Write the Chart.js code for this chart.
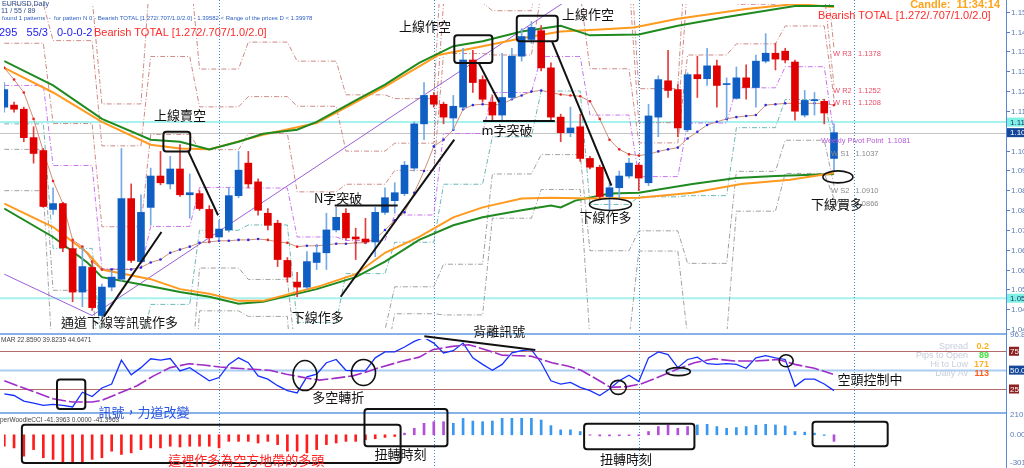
<!DOCTYPE html>
<html><head><meta charset="utf-8">
<script src="https://cdn.jsdelivr.net/npm/chart.js@4"></script>
<style>html,body{margin:0;padding:0;background:#fff;overflow:hidden}</style>
</head><body>
<canvas id="c" width="1024" height="468"></canvas>
<script>
// ---------- DATA ----------
const bars = Array.from({length: 86}, (_, i) => i);
const opens = [1.1178,1.1185,1.1171,1.1074,1.1030,1.0829,1.0849,1.0695,1.0547,1.0631,
1.0467,1.0564,1.0591,1.0866,1.0651,1.0836,1.0943,1.0916,1.0967,1.0879,
1.0883,1.0829,1.0735,1.0759,1.0876,1.0987,1.0923,1.0816,1.0782,1.0655,
1.0581,1.0564,1.0648,1.0681,1.0759,1.0816,1.0735,1.0728,1.0718,1.0819,
1.0859,1.0883,1.0970,1.1121,1.1218,1.1188,1.1141,1.1178,1.1339,1.1272,
1.1195,1.1151,1.1211,1.1352,1.1409,1.1439,1.1312,1.1144,1.1091,1.1111,
1.1003,1.0973,1.0873,1.0903,1.0943,1.0980,1.0920,1.1144,1.1268,1.1238,
1.1101,1.1289,1.1275,1.1319,1.1255,1.1208,1.1278,1.1245,1.1335,1.1362,
1.1369,1.1332,1.1151,1.1200,1.1198,1.1003];
const highs = [1.1262,1.1195,1.1178,1.1111,1.1037,1.0903,1.0852,1.0725,1.0698,1.0651,
1.0574,1.0618,1.1037,1.0916,1.0879,1.0970,1.1027,1.1010,1.1050,1.0950,
1.0893,1.0842,1.0792,1.0903,1.1027,1.1027,1.0933,1.0832,1.0792,1.0665,
1.0614,1.0685,1.0708,1.0816,1.0836,1.0832,1.0765,1.0799,1.0836,1.0903,
1.0920,1.0993,1.1128,1.1262,1.1228,1.1195,1.1218,1.1379,1.1372,1.1285,
1.1218,1.1362,1.1379,1.1446,1.1470,1.1456,1.1329,1.1154,1.1178,1.1154,
1.1010,1.0980,1.0920,1.0960,1.1003,1.0987,1.1188,1.1285,1.1372,1.1255,
1.1295,1.1352,1.1379,1.1339,1.1278,1.1315,1.1322,1.1356,1.1429,1.1396,
1.1379,1.1339,1.1235,1.1228,1.1205,1.1121];
const lows = [1.1161,1.1161,1.1060,1.0987,1.0836,1.0812,1.0685,1.0514,1.0497,1.0484,
1.0457,1.0551,1.0584,1.0648,1.0645,1.0775,1.0913,1.0899,1.0873,1.0799,
1.0826,1.0715,1.0725,1.0752,1.0869,1.0903,1.0809,1.0759,1.0634,1.0581,
1.0531,1.0557,1.0624,1.0624,1.0752,1.0725,1.0658,1.0712,1.0668,1.0812,
1.0816,1.0876,1.0960,1.1067,1.1178,1.1121,1.1101,1.1171,1.1228,1.1195,
1.1134,1.1134,1.1205,1.1335,1.1396,1.1302,1.1134,1.1060,1.1077,1.0993,
1.0967,1.0866,1.0826,1.0869,1.0936,1.0893,1.0910,1.1077,1.1211,1.1077,
1.1094,1.1211,1.1252,1.1178,1.1138,1.1205,1.1205,1.1178,1.1329,1.1305,
1.1329,1.1134,1.1144,1.1151,1.1121,1.0960];
const closes = [1.1238,1.1171,1.1074,1.1020,1.0839,1.0849,1.0698,1.0547,1.0634,1.0494,
1.0564,1.0598,1.0866,1.0655,1.0819,1.0943,1.0920,1.0967,1.0879,1.0886,
1.0832,1.0732,1.0762,1.0876,1.0963,1.0916,1.0826,1.0775,1.0658,1.0598,
1.0564,1.0651,1.0681,1.0759,1.0802,1.0732,1.0728,1.0718,1.0819,1.0869,
1.0886,1.0980,1.1121,1.1218,1.1188,1.1144,1.1181,1.1339,1.1262,1.1205,
1.1151,1.1211,1.1352,1.1419,1.1450,1.1312,1.1144,1.1091,1.1107,1.1003,
1.0973,1.0873,1.0903,1.0943,1.0987,1.0936,1.1148,1.1272,1.1235,1.1107,
1.1289,1.1275,1.1319,1.1252,1.1258,1.1278,1.1245,1.1335,1.1362,1.1342,
1.1339,1.1164,1.1201,1.1203,1.1158,1.1091];
const maMid = [1.1312,1.1272,1.1228,1.1138,1.1027,1.0926,1.0849,1.0725,1.0702,1.0651,
1.0624,1.0624,1.0624,1.0624,1.0631,1.0648,1.0658,1.0681,1.0692,1.0702,
1.0715,1.0718,1.0722,1.0722,1.0725,1.0725,1.0728,1.0725,1.0718,1.0715,
1.0702,1.0705,1.0705,1.0708,1.0712,1.0712,1.0715,1.0715,1.0728,1.0759,
1.0792,1.0819,1.0886,1.0960,1.1044,1.1067,1.1101,1.1171,1.1185,1.1188,
1.1185,1.1188,1.1205,1.1218,1.1231,1.1235,1.1228,1.1221,1.1218,1.1215,
1.1198,1.1138,1.1067,1.1034,1.1017,1.1013,1.1017,1.1027,1.1034,1.1040,
1.1071,1.1094,1.1117,1.1128,1.1138,1.1144,1.1148,1.1151,1.1185,1.1188,
1.1191,1.1191,1.1191,1.1191,1.1191,1.1185];
// channel bands: [bar, price]
const upperGreen = [[0,1.1335],[5,1.1252],[10,1.1138],[15,1.1067],[18,1.1060],[21,1.1034],[24,1.1060],[26.5,1.1087],[30,1.1101],[32,1.1128],[36,1.1201],[39,1.1255],[42.5,1.1329],[46,1.1386],[49,1.1403],[53,1.1436],[57,1.1456],[60,1.1423],[65,1.1426],[69,1.1456],[74,1.1486],[81,1.1523],[85,1.1523]];
const upperOrange = [[0,1.1312],[5,1.1228],[10,1.1128],[15,1.1050],[18,1.1037],[21,1.1034],[26.5,1.1084],[32,1.1124],[39,1.1248],[44.5,1.1356],[49,1.1386],[53,1.1413],[57,1.1436],[61,1.1443],[64.5,1.1450],[69,1.1480],[76,1.1513],[81,1.1530],[85,1.1520]];
const lowerOrange = [[0,1.0849],[5,1.0769],[8.5,1.0681],[10,1.0624],[15,1.0591],[18,1.0557],[21,1.0541],[24,1.0517],[26.5,1.0517],[32,1.0564],[36,1.0608],[39,1.0681],[42.5,1.0735],[46,1.0802],[49,1.0836],[53,1.0866],[56,1.0869],[60,1.0866],[65,1.0869],[70.5,1.0886],[75.5,1.0916],[80.5,1.0930],[85,1.0953]];
const lowerGreen = [[0,1.0832],[5,1.0735],[8.5,1.0648],[10,1.0598],[15,1.0567],[18,1.0547],[21,1.0531],[24,1.0507],[26.5,1.0514],[32,1.0557],[36,1.0598],[39,1.0651],[42.5,1.0725],[46,1.0775],[49,1.0802],[53,1.0826],[56,1.0842],[57,1.0836],[58.5,1.0859],[62,1.0883],[65,1.0886],[70.5,1.0916],[75,1.0936],[79,1.0943],[85,1.0950]];
const trendLine = [[0,1.0608],[9,1.0467],[51,1.1396],[58,1.1550]];
// weekly pivots (5 bars per week)
const WEEK = 5;
const pivotPP = [1.1252,1.0979,1.0627,1.0771,1.0904,1.0902,1.0735,1.0723,1.0810,1.1088,1.1228,1.1351,1.1151,1.0941,1.1124,1.1244,1.1316,1.1081];
const pivotR1 = [1.1396,1.1122,1.0770,1.1085,1.1033,1.1088,1.0889,1.0915,1.0962,1.1361,1.1356,1.1568,1.1309,1.1056,1.1356,1.1394,1.1455,1.1208];
const pivotR2 = [1.1530,1.1405,1.1046,1.1351,1.1179,1.1214,1.1181,1.1028,1.1055,1.1534,1.1507,1.1687,1.1614,1.1125,1.1604,1.1529,1.1568,1.1252];
const pivotR3 = [1.1650,1.1548,1.1189,1.1665,1.1308,1.1400,1.1335,1.1220,1.1207,1.1807,1.1634,1.1904,1.1772,1.1241,1.1835,1.1679,1.1709,1.1378];
const pivotS1 = [1.1121,1.0696,1.0350,1.0505,1.0758,1.0776,1.0443,1.0610,1.0717,1.0915,1.1077,1.1233,1.0846,1.0872,1.0876,1.1108,1.1204,1.1037];
const pivotS2 = [1.1034,1.0553,1.0208,1.0191,1.0629,1.0590,1.0289,1.0418,1.0565,1.0642,1.0950,1.1016,1.0688,1.0756,1.0645,1.0959,1.1065,1.0910];
const pivotS3 = [1.0893,1.0270,0.9932,0.9925,1.0483,1.0464,0.9997,1.0304,1.0473,1.0469,1.0799,1.0897,1.0383,1.0687,1.0396,1.0823,1.0952,1.0866];
const monthStarts = [22, 44, 65, 87];
const bidPrice = 1.1091, cyanHigh = 1.1127, cyanLow = 1.0526;
const mainTicks = [1.1504,1.1436,1.1369,1.1301,1.1233,1.1166,1.1030,1.0962,1.0895,1.0827,1.0759,1.0692,1.0624,1.0556,1.0488,1.0421];
// oscillator panel
const rsiMain = [18.5,16.4,9.0,6.4,3.4,4.6,3.4,1.2,20.7,15.1,
26.3,31.6,63.2,43.7,53.3,65.0,63.2,65.4,48.9,53.3,
44.6,35.9,40.2,57.6,66.3,59.8,42.4,38.1,29.4,22.9,
19.8,41.1,44.6,59.8,64.1,49.8,48.9,48.9,66.3,74.1,
74.1,80.6,88.0,93.2,85.8,72.8,75.8,85.8,66.3,57.6,
49.8,57.6,72.8,75.8,77.1,59.8,35.9,31.6,33.7,27.2,
22.9,16.4,25.0,35.9,43.3,35.0,66.3,74.1,70.6,53.3,
64.1,67.1,58.5,57.6,58.5,57.6,52.4,66.3,69.3,66.3,
64.1,28.5,38.1,38.1,31.6,22.9];
const rsiSignal = [[0,35.9],[5,12.0],[7,7.7],[9,7.7],[10,9.9],[12,20.7],[13.6,29.4],[15.3,42.4],[17,53.3],[18.9,58.5],[20.4,56.7],[22.1,54.1],[23.8,52.4],[25.5,51.1],[27.2,49.8],[28.9,44.6],[31,39.4],[32.3,36.8],[34,39.4],[35.7,42.4],[37.4,48.9],[38.4,53.3],[40.8,62.0],[42.5,67.2],[43.9,77.1],[45.9,81.5],[47.6,83.6],[49.3,77.1],[51,69.8],[54,68.4],[56.1,59.8],[57.7,55.4],[59.1,49.8],[60.4,40.2],[62.1,27.2],[63.8,28.1],[65.2,31.6],[66.9,40.2],[68.9,51.1],[70.7,59.8],[72.7,65.0],[74.8,62.0],[76.9,62.0],[79.3,64.1],[81,57.6],[83,52.4],[84.9,44.6]];
const rsiLevels = [75, 50, 25];
// CCI histogram
const cciValues = [-122,-140,-228,-158,-245,-263,-298,-298,-298,-263,
-245,-175,-210,-193,-158,-140,-140,-122,-130,-122,
-122,-122,-140,-70,-70,-70,-88,-70,-105,-175,
-175,-193,-158,-105,-88,-70,-70,-53,-42,-28,
-18,18,70,123,140,140,123,175,147,140,
147,186,200,210,200,158,98,53,53,35,
-5,-12,-12,-10,-8,-10,35,88,105,70,
88,105,112,88,70,77,88,102,112,105,
95,35,28,18,-7,-70];
const cciPhase = [[0,40,'bear'],[41,45,'turn'],[46,59,'bull'],[60,70,'turn'],[71,84,'bull'],[85,85,'turn']];

// ---------- STYLE / LAYOUT ----------
const MAIN_BOTTOM = 333, RSI_TOP = 335, RSI_BOTTOM = 412, CCI_TOP = 414, H = 468;
const clipMain = {left:0, right:0, top:0, bottom:-(H - MAIN_BOTTOM)};
const clipRsi = {left:0, right:0, top:-RSI_TOP, bottom:-(H - RSI_BOTTOM)};
const clipCci = {left:0, right:0, top:-CCI_TOP, bottom:0};
const BLUE = '#0e5ec4', RED = '#e00000', BLUE_W = '#74aae6', RED_W = '#e43b3b';
const phaseColor = {bear:'#ff1c1c', turn:'#b24fd6', bull:'#3897f0'};
function cciColor(i){ for (const [a,b,p] of cciPhase) if (i>=a && i<=b) return phaseColor[p]; return '#888'; }
const pts = arr => arr.map(([x,y]) => ({x, y}));
const perBar = arr => bars.map(i => ({x:i, y:arr[i]}));
const weekly = arr => bars.map(i => ({x:i, y:arr[Math.floor(i / WEEK)]}));
function line(data, axis, color, width, dash, order, clip, extra){
  return Object.assign({type:'line', data, yAxisID:axis, xAxisID:'x', borderColor:color, borderWidth:width,
    borderDash:dash||[], pointRadius:0, tension:0, fill:false, order, clip}, extra||{});
}
const DD = [5,2,1,2];
const datasets = [
  {type:'bar', data: bars.map(i => ({x:i, y:[opens[i], closes[i]]})), yAxisID:'yMain', xAxisID:'x',
   backgroundColor: bars.map(i => closes[i] >= opens[i] ? BLUE : RED), barThickness:7, grouped:false,
   borderWidth:0, minBarLength:1, order:0, clip:clipMain},
  {type:'bar', data: bars.map(i => ({x:i, y:[lows[i], highs[i]]})), yAxisID:'yMain', xAxisID:'x',
   backgroundColor: bars.map(i => closes[i] >= opens[i] ? BLUE_W : RED_W), barThickness:1, grouped:false,
   borderWidth:0, order:1, clip:clipMain},
  line(perBar(maMid), 'yMain', '#cf8f74', 1, null, 2, clipMain, {pointRadius:1.3, pointBorderWidth:0,
    pointBackgroundColor: bars.map(i => (i>0 && maMid[i] >= maMid[i-1]) ? '#2a2ae8' : '#e82020')}),
  line(pts(upperGreen), 'yMain', '#1f8a1f', 2, null, 3, clipMain),
  line(pts(upperOrange), 'yMain', '#ff9a1e', 2, null, 3, clipMain),
  line(pts(lowerOrange), 'yMain', '#ff9a1e', 2, null, 3, clipMain),
  line(pts(lowerGreen), 'yMain', '#1f8a1f', 2, null, 3, clipMain),
  line(pts(trendLine), 'yMain', '#9b5fd6', 1, null, 4, clipMain),
  line(weekly(pivotPP), 'yMain', '#c874ee', 1, DD, 5, clipMain),
  line(weekly(pivotR1), 'yMain', '#cc8a86', 1, DD, 5, clipMain),
  line(weekly(pivotR2), 'yMain', '#cc8a86', 1, DD, 5, clipMain),
  line(weekly(pivotR3), 'yMain', '#cc8a86', 1, DD, 5, clipMain),
  line(weekly(pivotS1), 'yMain', '#6cb8b4', 1, DD, 5, clipMain),
  line(weekly(pivotS2), 'yMain', '#a0a0a0', 1, DD, 5, clipMain),
  line(weekly(pivotS3), 'yMain', '#a0a0a0', 1, DD, 5, clipMain),
  line(pts(rsiSignal), 'yRsi', '#a02cc8', 1.6, [14,3], 6, clipRsi),
  line(perBar(rsiMain), 'yRsi', '#1530ff', 1.3, null, 6, clipRsi),
  {type:'bar', data: bars.map(i => ({x:i, y:cciValues[i]})), yAxisID:'yCci', xAxisID:'x',
   backgroundColor: bars.map(i => cciColor(i)), barThickness:2, grouped:false, borderWidth:0, order:7, clip:clipCci}
];

// ---------- ANNOTATIONS (in data units of each panel) ----------
const notesMain = [
  {t:'上線賣空', at:[18.0,1.1151]}, {t:'上線作空', at:[43.1,1.1456]}, {t:'上線作空', at:[59.8,1.1496]},
  {t:'m字突破', at:[51.5,1.1101]}, {t:'N字突破', at:[34.2,1.0869]}, {t:'下線作多', at:[32.1,1.0463]},
  {t:'通道下線等訊號作多', at:[11.8,1.0443]}, {t:'下線作多', at:[61.6,1.0802]}, {t:'下線買多', at:[85.3,1.0849]}
];
const boxesMain = [[16.3,1.1094,19.05,1.1027],[46.1,1.1423,50.0,1.1329],[52.5,1.1490,56.7,1.1403]];
const segsMain = [[18.85,1.1027,21.9,1.0809],[48.6,1.1329,50.7,1.1195],[56.1,1.1403,62.2,1.0910],
  [49.05,1.1131,56.4,1.1131],[33.85,1.0842,40.3,1.0842],[34.46,1.0531,46.1,1.1067],[10.2,1.0463,16.1,1.0752]];
const ellMain = [[62.1,1.0846,21,6],[85.4,1.0940,15,6]];
const notesRsi = [{t:'多空轉折', at:[34.2,14.2]}, {t:'背離訊號', at:[50.7,101.4]}, {t:'空頭控制中', at:[88.7,37.6]},
  {t:'訊號，力道改變', at:[14.3,-5.3], c:'#2a55e0'}];
const boxesRsi = [[5.4,37.6,8.3,-1.4]];
const segsRsi = [[43.03,94.9,54.4,76.7]];
const ellRsi = [[30.8,42.8,12,15],[36.8,46.8,12,13],[62.9,27.2,8,7],[69.05,48.0,12,4],[80.1,62.4,7,6]];
const notesCci = [{t:'扭轉時刻', at:[40.6,-207]}, {t:'扭轉時刻', at:[63.7,-259]}, {t:'這裡作多為空方地帶的多頭', at:[24.8,-269], c:'#ff2020'}];
const boxesCci = [[1.8,108,40.6,-302],[36.9,276,45.4,-123],[59.4,119,70.7,-154],[82.8,140,90.5,-123]];

const CJK = '"Noto Sans CJK TC","Noto Sans CJK SC",sans-serif';
const SANS = '"Liberation Sans","DejaVu Sans",sans-serif';

const overlay = {
  id:'overlay',
  beforeDatasetsDraw(chart){
    const {ctx} = chart, xs = chart.scales.x, ym = chart.scales.yMain, yr = chart.scales.yRsi;
    const R = chart.chartArea.right;
    ctx.save();
    const hl = (y, col, w) => { ctx.strokeStyle = col; ctx.lineWidth = w; ctx.beginPath(); ctx.moveTo(0, y); ctx.lineTo(R, y); ctx.stroke(); };
    hl(Math.round(ym.getPixelForValue(bidPrice))+0.5, '#c4c4c4', 1);
    hl(ym.getPixelForValue(cyanHigh), '#a6f2ee', 2);
    hl(ym.getPixelForValue(cyanLow), '#a6f2ee', 2);
    hl(Math.round(yr.getPixelForValue(rsiLevels[0]))+0.5, '#b46a6a', 1);
    hl(Math.round(yr.getPixelForValue(rsiLevels[2]))+0.5, '#b46a6a', 1);
    hl(Math.round(yr.getPixelForValue(rsiLevels[1]))+0.5, '#a9cdf2', 2);
    ctx.setLineDash([1,2]); ctx.strokeStyle = '#3a88e0'; ctx.lineWidth = 1;
    monthStarts.forEach(i => { const x = Math.round(xs.getPixelForValue(i))+0.5; ctx.beginPath(); ctx.moveTo(x,0); ctx.lineTo(x,H); ctx.stroke(); });
    ctx.restore();
  },
  afterDatasetsDraw(chart){
    const {ctx} = chart, xs = chart.scales.x, ym = chart.scales.yMain, yr = chart.scales.yRsi, yc = chart.scales.yCci;
    const R = chart.chartArea.right;
    ctx.save();
    ctx.fillStyle = '#86b2e8';
    ctx.fillRect(0, MAIN_BOTTOM, R, 2); ctx.fillRect(0, RSI_BOTTOM, R, 2);
    ctx.fillStyle = '#fff'; ctx.fillRect(R+1, 0, 1024-R, H);
    ctx.fillStyle = '#5a8ad8'; ctx.fillRect(R, 0, 1, H);
    ctx.font = '8px ' + SANS; ctx.textBaseline = 'middle'; ctx.textAlign = 'left';
    ctx.fillStyle = '#5c7cb8';
    mainTicks.forEach(v => { const y = Math.round(ym.getPixelForValue(v)); ctx.fillRect(R+1, y, 3, 1); ctx.fillText(v.toFixed(4), R+5, y+0.5); });
    const tag = (y, txt, bg, fg) => { ctx.fillStyle = bg; ctx.fillRect(R+1, y-4.5, 1024-R, 9); ctx.fillStyle = fg; ctx.fillText(txt, R+4, y+0.5); };
    tag(ym.getPixelForValue(cyanHigh), cyanHigh.toFixed(4), '#7ff0e4', '#1a3a6a');
    tag(ym.getPixelForValue(bidPrice), bidPrice.toFixed(4), '#14479a', '#fff');
    tag(ym.getPixelForValue(cyanLow), cyanLow.toFixed(4), '#7ff0e4', '#1a3a6a');
    ctx.fillStyle = '#5c7cb8';
    ctx.fillText('96.83', R+4, yr.getPixelForValue(96.83));
    const ltag = (y, txt, bg, w) => { ctx.fillStyle = bg; ctx.fillRect(R+3, y-4.5, w, 9); ctx.fillStyle = '#fff'; ctx.fillText(txt, R+4, y+0.5); };
    ltag(yr.getPixelForValue(75), '75', '#8e1f1f', 10);
    ltag(yr.getPixelForValue(50), '50.00', '#14479a', 20);
    ltag(yr.getPixelForValue(25), '25', '#8e1f1f', 10);
    ctx.fillStyle = '#5c7cb8';
    ctx.fillText('210.96', R+4, yc.getPixelForValue(210.96));
    ctx.fillText('0.00', R+4, yc.getPixelForValue(0));
    ctx.fillText('-301.3', R+4, yc.getPixelForValue(-296));
    const last = pivotPP.length - 1, lx = xs.getPixelForValue(85);
    ctx.font = '7.5px ' + SANS;
    const plab = (txt, v, col, dx) => { ctx.fillStyle = col; ctx.fillText(txt, lx + dx, ym.getPixelForValue(v) + 5); };
    plab('W R3   ' + pivotR3[last].toFixed(4), pivotR3[last], '#e8506a', -1);
    plab('W R2   ' + pivotR2[last].toFixed(4), pivotR2[last], '#e8506a', -1);
    plab('W R1   ' + pivotR1[last].toFixed(4), pivotR1[last], '#e8506a', -1);
    plab('Weekly Pivot Point  ' + pivotPP[last].toFixed(4), pivotPP[last], '#b45ad8', -13);
    plab('W S1   ' + pivotS1[last].toFixed(4), pivotS1[last], '#8a8a8a', -3);
    plab('W S2   ' + pivotS2[last].toFixed(4), pivotS2[last], '#8a8a8a', -3);
    plab('W S3   ' + pivotS3[last].toFixed(4), pivotS3[last], '#8a8a8a', -3);
    const drawSet = (ys, notes, boxes, segs, ells) => {
      ctx.lineWidth = 2; ctx.strokeStyle = '#111';
      (boxes||[]).forEach(([a,b,c,d]) => { const x0 = xs.getPixelForValue(a), y0 = ys.getPixelForValue(b), x1 = xs.getPixelForValue(c), y1 = ys.getPixelForValue(d);
        ctx.beginPath(); ctx.roundRect(x0, y0, x1-x0, y1-y0, 3); ctx.stroke(); });
      (segs||[]).forEach(([a,b,c,d]) => { ctx.beginPath(); ctx.moveTo(xs.getPixelForValue(a), ys.getPixelForValue(b)); ctx.lineTo(xs.getPixelForValue(c), ys.getPixelForValue(d)); ctx.stroke(); });
      ctx.lineWidth = 1.6;
      (ells||[]).forEach(([a,b,rx,ry]) => { ctx.beginPath(); ctx.ellipse(xs.getPixelForValue(a), ys.getPixelForValue(b), rx, ry, 0, 0, Math.PI*2); ctx.stroke(); });
      ctx.font = '13px ' + CJK; ctx.textAlign = 'center'; ctx.textBaseline = 'middle';
      (notes||[]).forEach(n => { ctx.fillStyle = n.c || '#111'; ctx.fillText(n.t, xs.getPixelForValue(n.at[0]), ys.getPixelForValue(n.at[1])); });
    };
    drawSet(ym, notesMain, boxesMain, segsMain, ellMain);
    drawSet(yr, notesRsi, boxesRsi, segsRsi, ellRsi);
    drawSet(yc, notesCci, boxesCci, null, null);
    ctx.textAlign = 'left'; ctx.textBaseline = 'middle';
    ctx.font = '7px ' + SANS; ctx.fillStyle = '#2a4c8c';
    ctx.fillText('EURUSD,Daily', 2, 4); ctx.fillText('11 / 55 / 89', 1, 11);
    ctx.font = '6px ' + SANS; ctx.fillStyle = '#2b5fc0';
    ctx.fillText('found 1 patterns  -  for pattern N 0 - Bearish TOTAL [1.272/.707/1.0/2.0] - 1.39582 < Range of the prices D < 1.39978', 2, 18);
    ctx.font = '11px ' + SANS; ctx.fillStyle = '#1c1cf0';
    ctx.fillText('295   55/3', -1, 33); ctx.fillText('0-0-0-2', 57, 33);
    ctx.fillStyle = '#ff2a2a'; ctx.fillText('Bearish TOTAL [1.272/.707/1.0/2.0]', 94, 33);
    ctx.fillText('Bearish TOTAL [1.272/.707/1.0/2.0]', 818, 16);
    ctx.font = 'bold 11px ' + SANS; ctx.fillStyle = '#ffa31a';
    ctx.textAlign = 'right'; ctx.fillText('Candle:  11:34:14', 1000, 5);
    ctx.textAlign = 'left'; ctx.font = '6.5px ' + SANS; ctx.fillStyle = '#444';
    ctx.fillText('MAR 22.8590 39.8235 44.6471', 1, RSI_TOP + 5);
    ctx.fillText('perWoodieCCI -41.3963 0.0000 -41.3963', 0, CCI_TOP + 6);
    const info = [['Spread','0.2','#ffb020'],['Pips to Open','89','#3ee23e'],['Hi to Low','171','#ffb020'],['Daily Av','113','#ff5a1a']];
    info.forEach(([k,v,c], j) => { const y = 347 + j*9; ctx.textAlign = 'right'; ctx.font = '9px ' + SANS; ctx.fillStyle = '#c6cedc'; ctx.fillText(k, 968, y);
      ctx.fillStyle = c; ctx.font = 'bold 9px ' + SANS; ctx.fillText(v, 989, y); });
    ctx.restore();
  }
};

new Chart(document.getElementById('c'), {
  type:'bar',
  data:{datasets},
  options:{
    responsive:false, animation:false, devicePixelRatio:1, events:[],
    layout:{padding:{left:0, right:18, top:0, bottom:0}},
    plugins:{legend:{display:false}, tooltip:{enabled:false}},
    scales:{
      x:{type:'linear', min:-0.03, max:102.62, display:false, offset:false},
      yMain:{type:'linear', position:'right', min:0.99603, max:1.1530, display:false},
      yRsi:{type:'linear', position:'right', min:-74.35, max:535.0, display:false},
      yCci:{type:'linear', position:'right', min:-311.9, max:4602, display:false}
    }
  },
  plugins:[overlay]
});
</script>
</body></html>
